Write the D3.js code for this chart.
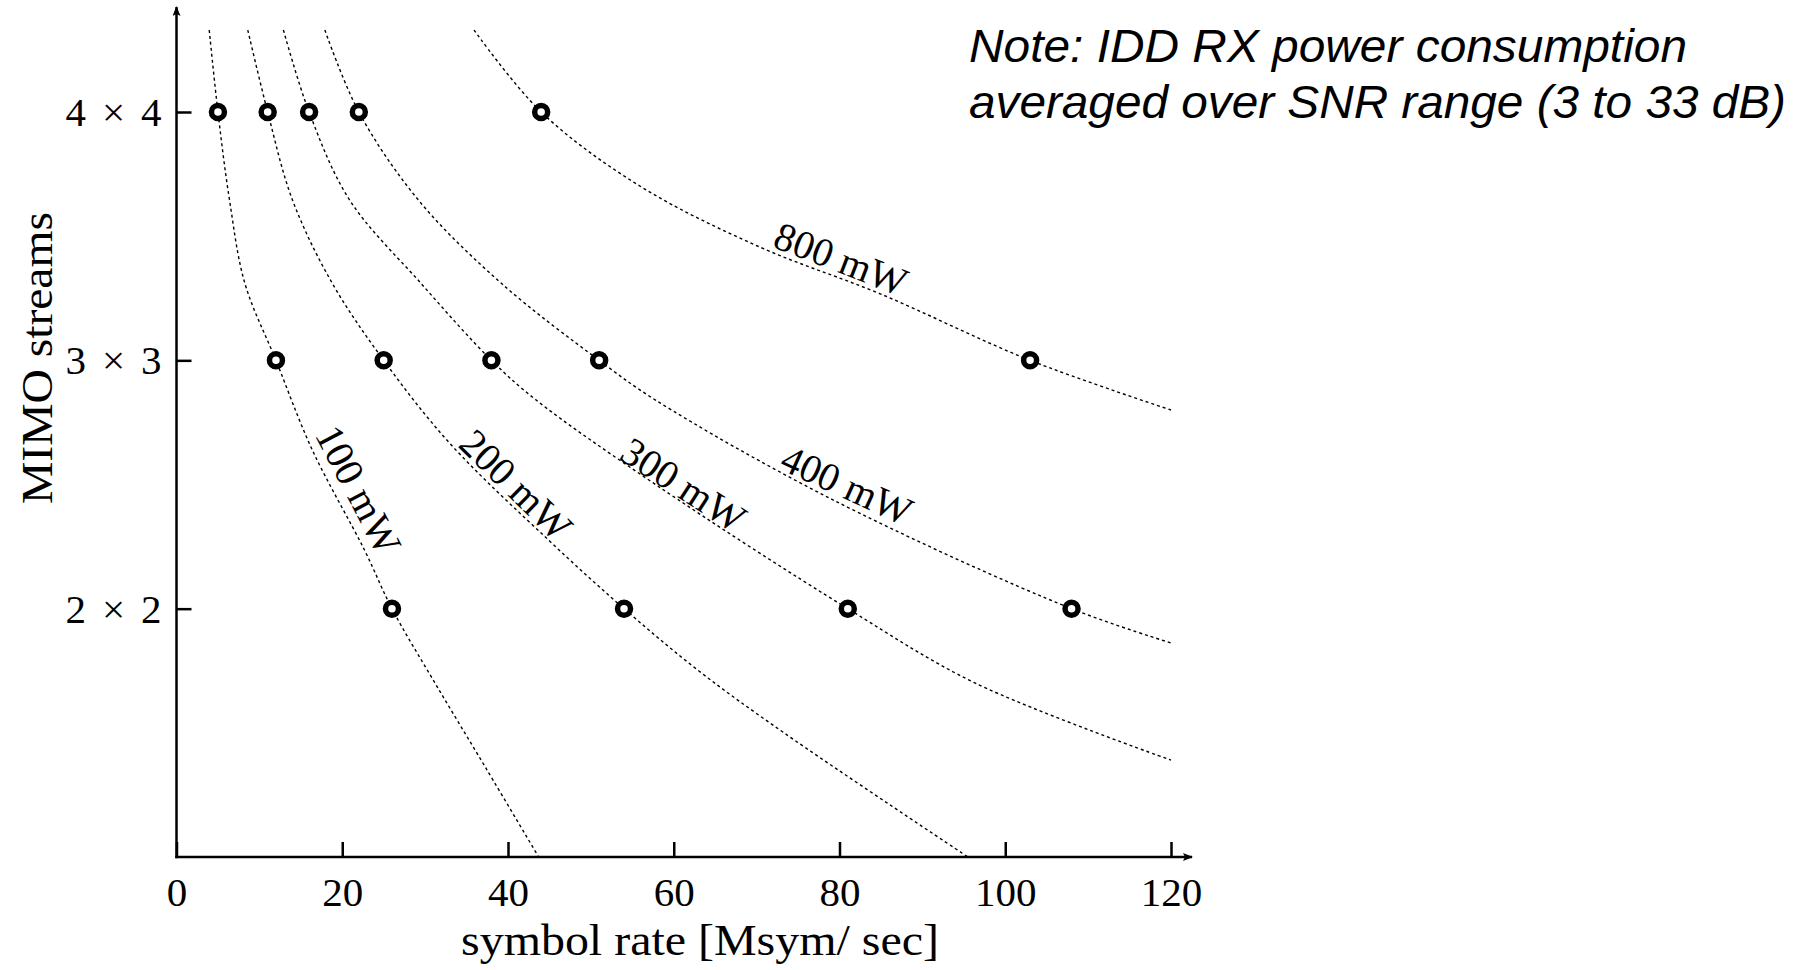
<!doctype html>
<html>

<head>
    <meta charset="utf-8">
    <title>MIMO streams vs symbol rate</title>
    <style>
        body { margin: 0; background: #fff; }
        .tick text { font-family: "Liberation Serif", serif; font-size: 41px; fill: #000; }
    </style>
</head>

<body>
    <script src="https://d3js.org/d3.v7.min.js"></script>
    <script>
        // Width and height
        var w = 1809;
        var h = 970;

        // Data (x = Msym/sec, y = MIMO streams)
        var streamTicks = [2, 3, 4];
        var rateTicks = [0, 20, 40, 60, 80, 100, 120];
        var powerNames = ["100 mW", "200 mW", "300 mW", "400 mW", "800 mW"];

        // dotted iso-power curves
        var curve100 = [[3.95, 4.33], [5, 4], [6.4, 3.645], [8.25, 3.31], [12, 3], [16.4, 2.638], [22.7, 2.235], [26, 2], [31.2, 1.7], [37.3, 1.36], [43.7, 1.0]];
        var curve200 = [[8.6, 4.33], [11, 4], [14, 3.645], [18.8, 3.31], [25, 3], [33, 2.665], [44.9, 2.276], [54, 2], [63, 1.75], [73.3, 1.5], [95.5, 1.0]];
        var curve300 = [[12.9, 4.33], [16, 4], [20.9, 3.645], [29.5, 3.31], [38, 3], [43.4, 2.84], [57.8, 2.5], [81, 2], [96.4, 1.7], [120, 1.39]];
        var curve400 = [[17.9, 4.33], [22, 4], [29.2, 3.645], [39.2, 3.31], [51, 3], [57.8, 2.84], [79.1, 2.44], [108, 2], [120, 1.862]];
        var curve800 = [[35.9, 4.33], [44, 4], [56, 3.7], [70.4, 3.456], [84.9, 3.268], [103, 3], [120, 2.8]];
        var curves = [curve100, curve200, curve300, curve400, curve800];

        // label anchors along each curve (data units)
        var labelAt = [[22.0, 2.48], [41.0, 2.50], [61.2, 2.50], [80.9, 2.50], [80.2, 3.41]];

        // measured operating points
        var points4x4 = [5, 11, 16, 22, 44];
        var points3x3 = [12, 25, 38, 51, 103];
        var points2x2 = [26, 54, 81, 108];

        var noteLines = ["Note: IDD RX power consumption", "averaged over SNR range (3 to 33 dB)"];

        var x = d3.scaleLinear().domain([0, 120]).range([176.5, 1171]);
        var y = d3.scaleLinear().domain([1, 4]).range([857, 112]);

        var svg = d3.select("body")
            .append("svg")
            .attr("width", w)
            .attr("height", h);

        // arrow head
        svg.append("defs").append("marker")
            .attr("id", "arrow")
            .attr("viewBox", "0 0 10 8")
            .attr("refX", 9)
            .attr("refY", 4)
            .attr("markerWidth", 10)
            .attr("markerHeight", 8)
            .attr("markerUnits", "userSpaceOnUse")
            .attr("orient", "auto")
            .append("path")
            .attr("d", "M0,0 L10,4 L0,8 L2,4 Z")
            .attr("fill", "#000");

        // curves
        var line = d3.line()
            .x(function (d) { return x(d[0]); })
            .y(function (d) { return y(d[1]); })
            .curve(d3.curveCatmullRom.alpha(0.5));

        svg.append("g").selectAll("path")
            .data(curves)
            .enter()
            .append("path")
            .attr("d", line)
            .attr("fill", "none")
            .attr("stroke", "#000")
            .attr("stroke-width", 1.4)
            .attr("stroke-dasharray", "3,3");

        // curve labels, turned along the curve
        function tangentAngle(c, px) {
            for (var i = 0; i < c.length - 1; i++) {
                var a = c[i], b = c[i + 1];
                if ((px >= a[0] && px <= b[0])) {
                    return Math.atan2(y(b[1]) - y(a[1]), x(b[0]) - x(a[0])) * 180 / Math.PI;
                }
            }
            return 0;
        }

        svg.append("g").selectAll("text")
            .data(powerNames)
            .enter()
            .append("text")
            .attr("transform", function (d, i) {
                var p = labelAt[i];
                return "translate(" + x(p[0]) + "," + y(p[1]) + ") rotate(" + tangentAngle(curves[i], p[0]) + ")";
            })
            .attr("text-anchor", "middle")
            .attr("dy", "0.35em")
            .style("font-family", "'Liberation Serif', serif")
            .style("font-size", "40px")
            .text(function (d) { return d; });

        // axes
        var xAxis = d3.axisBottom(x)
            .tickValues(rateTicks)
            .tickSize(-15)
            .tickPadding(20);

        var yAxis = d3.axisLeft(y)
            .tickValues(streamTicks)
            .tickSize(-15)
            .tickPadding(15)
            .tickFormat(function (d) { return d + " \u00d7 " + d; });

        var gx = svg.append("g")
            .attr("transform", "translate(0," + y(1) + ")")
            .call(xAxis);
        var gy = svg.append("g")
            .attr("transform", "translate(" + x(0) + ",0)")
            .call(yAxis);

        gx.select(".domain").remove();
        gy.select(".domain").remove();
        gx.selectAll(".tick line").attr("stroke-width", 2.5);
        gy.selectAll(".tick line").attr("stroke-width", 2.5);
        gy.selectAll(".tick text")
            .attr("dy", "0.33em")
            .attr("textLength", 96);

        svg.append("line")
            .attr("x1", x(0) - 1.2).attr("y1", y(1))
            .attr("x2", 1192).attr("y2", y(1))
            .attr("stroke", "#000").attr("stroke-width", 2.5)
            .attr("marker-end", "url(#arrow)");
        svg.append("line")
            .attr("x1", x(0)).attr("y1", y(1) + 1.2)
            .attr("x2", x(0)).attr("y2", 7)
            .attr("stroke", "#000").attr("stroke-width", 2.5)
            .attr("marker-end", "url(#arrow)");

        // operating points
        var allPoints = points4x4.map(function (v) { return [v, 4]; })
            .concat(points3x3.map(function (v) { return [v, 3]; }))
            .concat(points2x2.map(function (v) { return [v, 2]; }));

        svg.append("g").selectAll("circle")
            .data(allPoints)
            .enter()
            .append("circle")
            .attr("cx", function (d) { return x(d[0]); })
            .attr("cy", function (d) { return y(d[1]); })
            .attr("r", 6.5)
            .attr("fill", "#fff")
            .attr("stroke", "#000")
            .attr("stroke-width", 5.5);

        // axis titles
        svg.append("text")
            .attr("x", 700)
            .attr("y", 955)
            .attr("text-anchor", "middle")
            .attr("textLength", 478)
            .attr("lengthAdjust", "spacingAndGlyphs")
            .style("font-family", "'Liberation Serif', serif")
            .style("font-size", "44px")
            .text("symbol rate [Msym/ sec]");

        svg.append("text")
            .attr("transform", "translate(52,358) rotate(-90)")
            .attr("text-anchor", "middle")
            .attr("textLength", 292)
            .attr("lengthAdjust", "spacingAndGlyphs")
            .style("font-family", "'Liberation Serif', serif")
            .style("font-size", "44px")
            .text("MIMO streams");

        // note
        svg.append("g").selectAll("text")
            .data(noteLines)
            .enter()
            .append("text")
            .attr("x", 969)
            .attr("y", function (d, i) { return 62 + i * 56; })
            .attr("textLength", function (d, i) { return i === 0 ? 718 : 817; })
            .attr("lengthAdjust", "spacingAndGlyphs")
            .style("font-family", "'Liberation Sans', sans-serif")
            .style("font-style", "italic")
            .style("font-size", "47px")
            .text(function (d) { return d; });
    </script>
</body>

</html>
